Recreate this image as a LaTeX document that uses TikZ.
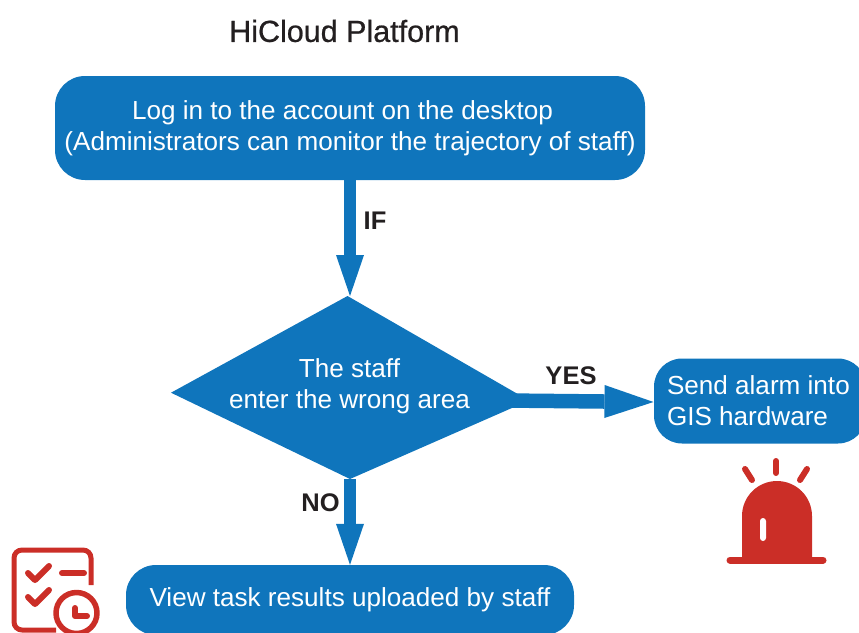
\documentclass[tikz,border=0pt]{standalone}
\usepackage{fontspec}
\setmainfont{Liberation Sans}
\newfontfamily\titlefont[FakeBold=0.7]{Liberation Sans}
\usetikzlibrary{arrows.meta}
\definecolor{flowblue}{HTML}{0F75BC}
\definecolor{alarmred}{HTML}{CB2E27}
\definecolor{inkdark}{HTML}{231F20}
\newcommand{\bodyfont}{\fontsize{26.1}{31}\selectfont}
\tikzset{
  flowbox/.style={fill=flowblue,text=white,rounded corners=#1,inner sep=0pt,align=center,font=\bodyfont},
  flowtext/.style={text=white,inner sep=0pt,align=center,font=\bodyfont},
  flowarrow/.style={draw=flowblue,line width=12pt,-{Triangle[width=28pt,length=41pt,line width=0pt,fill=flowblue]}},
  sidearrow/.style={draw=flowblue,line width=14.5pt,-{Triangle[width=33pt,length=49pt,line width=0pt,fill=flowblue]}},
  edgelabel/.style={text=inkdark,font=\fontsize{25.5}{28}\selectfont\bfseries,inner sep=0pt},
  titlelabel/.style={text=inkdark,font=\titlefont\fontsize{30.5}{34}\selectfont,inner sep=0pt},
  redline/.style={draw=alarmred,line cap=round,line join=round,line width=#1},
}
\begin{document}
\begin{tikzpicture}[x=1pt,y=-1pt]
\useasboundingbox (0,0) rectangle (859,632);
\clip (0,0) rectangle (859,632);
\node[titlelabel] (title) at (344.5,31) {HiCloud Platform};
\node[flowbox=30pt,minimum width=590pt,minimum height=104pt] (login) at (350,128) {Log in to the account on the desktop\hspace*{15pt}\\(Administrators can monitor the trajectory of staff)};
\coordinate (checktop) at (347.5,296);
\coordinate (checkright) at (529,400.5);
\coordinate (checkbottom) at (350,479);
\coordinate (checkleft) at (171,392.7);
\fill[flowblue] (checktop) -- (checkright) -- (checkbottom) -- (checkleft) -- cycle;
\node[flowtext] (check) at (349.5,386) {The staff\\enter the wrong area};
\node[flowbox=28pt,text width=186pt,align=flush left,minimum width=212pt,minimum height=85pt] (alarm) at (760,401) {Send alarm into\\GIS hardware};
\node[flowbox=30pt,minimum width=448pt,minimum height=70pt] (tasks) at (350,600) {View task results uploaded by staff};
\coordinate (yesstart) at (505,400.5);
\coordinate (yesend) at (653.5,402);
\coordinate (iftip) at (350,296);
\draw[flowarrow] (iftip |- login.south) -- (iftip);
\draw[flowarrow] (checkbottom) -- (checkbottom |- tasks.north);
\draw[sidearrow] (yesstart) -- (yesend);
\node[edgelabel] (iflabel) at (375,221) {IF};
\node[edgelabel] (yeslabel) at (571,376) {YES};
\node[edgelabel] (nolabel) at (320.5,502.5) {NO};
% alarm icon
\fill[alarmred] (742,557) -- (742,516) arc[start angle=180,end angle=0,radius=35pt] -- (812,557) -- cycle;
\draw[redline=7pt] (730,560) -- (823,560);
\fill[white,rounded corners=3pt] (760,518) rectangle (766,541);
\draw[redline=6pt] (745,469) -- (752,480);
\draw[redline=6pt] (776,461) -- (776,473);
\draw[redline=6pt] (807,469) -- (800,480);
% checklist icon
\draw[redline=5pt,line cap=butt,rounded corners=8pt] (91,585) -- (91,550) -- (14,550) -- (14,630) -- (56,630);
\draw[redline=6pt] (28,573) -- (35,580) -- (49,566);
\draw[redline=6pt] (28,597) -- (35,604) -- (49,590);
\draw[redline=6pt] (62,573) -- (84,573);
\draw[redline=5.5pt] (76.5,613) circle[radius=20.5pt];
\draw[redline=6pt] (75,608) -- (75,616) -- (87,616);
\end{tikzpicture}
\end{document}
